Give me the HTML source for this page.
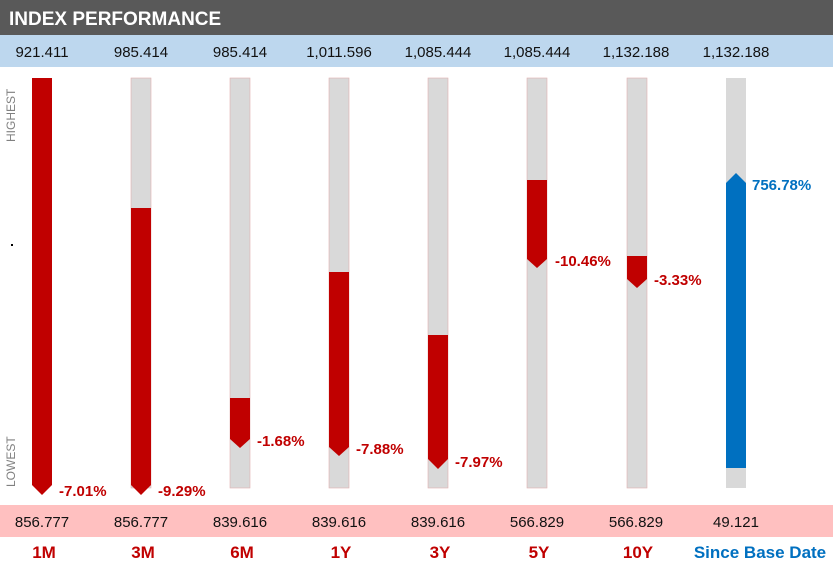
<!DOCTYPE html>
<html><head><style>
body{margin:0;width:833px;height:567px;overflow:hidden;background:#fff;font-family:"Liberation Sans",sans-serif}
</style></head><body>
<svg width="833" height="567" xmlns="http://www.w3.org/2000/svg" font-family="Liberation Sans, sans-serif">
<rect x="0" y="0" width="833" height="35" fill="#595959"/>
<text x="9" y="25" fill="#fff" font-size="19" font-weight="bold">INDEX PERFORMANCE</text>
<rect x="0" y="35" width="833" height="32" fill="#bdd7ee"/>
<g font-size="15" fill="#111" text-anchor="middle">
<text x="42" y="57">921.411</text><text x="141" y="57">985.414</text><text x="240" y="57">985.414</text><text x="339" y="57">1,011.596</text><text x="438" y="57">1,085.444</text><text x="537" y="57">1,085.444</text><text x="636" y="57">1,132.188</text><text x="736" y="57">1,132.188</text>
</g>
<g fill="#808080" font-size="12">
<text transform="translate(15,142) rotate(-90)">HIGHEST</text>
<text transform="translate(15,487) rotate(-90)">LOWEST</text>
</g>
<rect x="11" y="244" width="2" height="2" fill="#000"/>
<g fill="#d9d9d9" stroke="#e0b0b0" stroke-width="0.6">
<rect x="131" y="78" width="20" height="410"/><rect x="230" y="78" width="20" height="410"/><rect x="329" y="78" width="20" height="410"/><rect x="428" y="78" width="20" height="410"/><rect x="527" y="78" width="20" height="410"/><rect x="627" y="78" width="20" height="410"/><rect x="726" y="78" width="20" height="410" stroke="none"/>
</g>
<g fill="#c00000">
<polygon points="32,78 52,78 52,485 42,495 32,485"/>
<polygon points="131,208 151,208 151,485 141,495 131,485"/>
<polygon points="230,398 250,398 250,439 240,448 230,439"/>
<polygon points="329,272 349,272 349,447 339,456 329,447"/>
<polygon points="428,335 448,335 448,459 438,469 428,459"/>
<polygon points="527,180 547,180 547,259 537,268 527,259"/>
<polygon points="627,256 647,256 647,279 637,288 627,279"/>
</g>
<polygon points="726,183 736,173 746,183 746,468 726,468" fill="#0070c0"/>
<g fill="#c00000" font-size="15" font-weight="bold">
<text x="59" y="496">-7.01%</text><text x="158" y="496">-9.29%</text><text x="257" y="446">-1.68%</text><text x="356" y="454">-7.88%</text><text x="455" y="467">-7.97%</text><text x="555" y="266">-10.46%</text><text x="654" y="285">-3.33%</text>
</g>
<text x="752" y="190" fill="#0070c0" font-size="15" font-weight="bold">756.78%</text>
<rect x="0" y="505" width="833" height="32" fill="#ffc0c0"/>
<g font-size="15" fill="#111" text-anchor="middle">
<text x="42" y="527">856.777</text><text x="141" y="527">856.777</text><text x="240" y="527">839.616</text><text x="339" y="527">839.616</text><text x="438" y="527">839.616</text><text x="537" y="527">566.829</text><text x="636" y="527">566.829</text><text x="736" y="527">49.121</text>
</g>
<g font-size="17" font-weight="bold" fill="#c00000" text-anchor="middle">
<text x="44" y="558">1M</text><text x="143" y="558">3M</text><text x="242" y="558">6M</text><text x="341" y="558">1Y</text><text x="440" y="558">3Y</text><text x="539" y="558">5Y</text><text x="638" y="558">10Y</text>
</g>
<text x="760" y="558" font-size="17" font-weight="bold" fill="#0070c0" text-anchor="middle">Since Base Date</text>
</svg>
</body></html>
